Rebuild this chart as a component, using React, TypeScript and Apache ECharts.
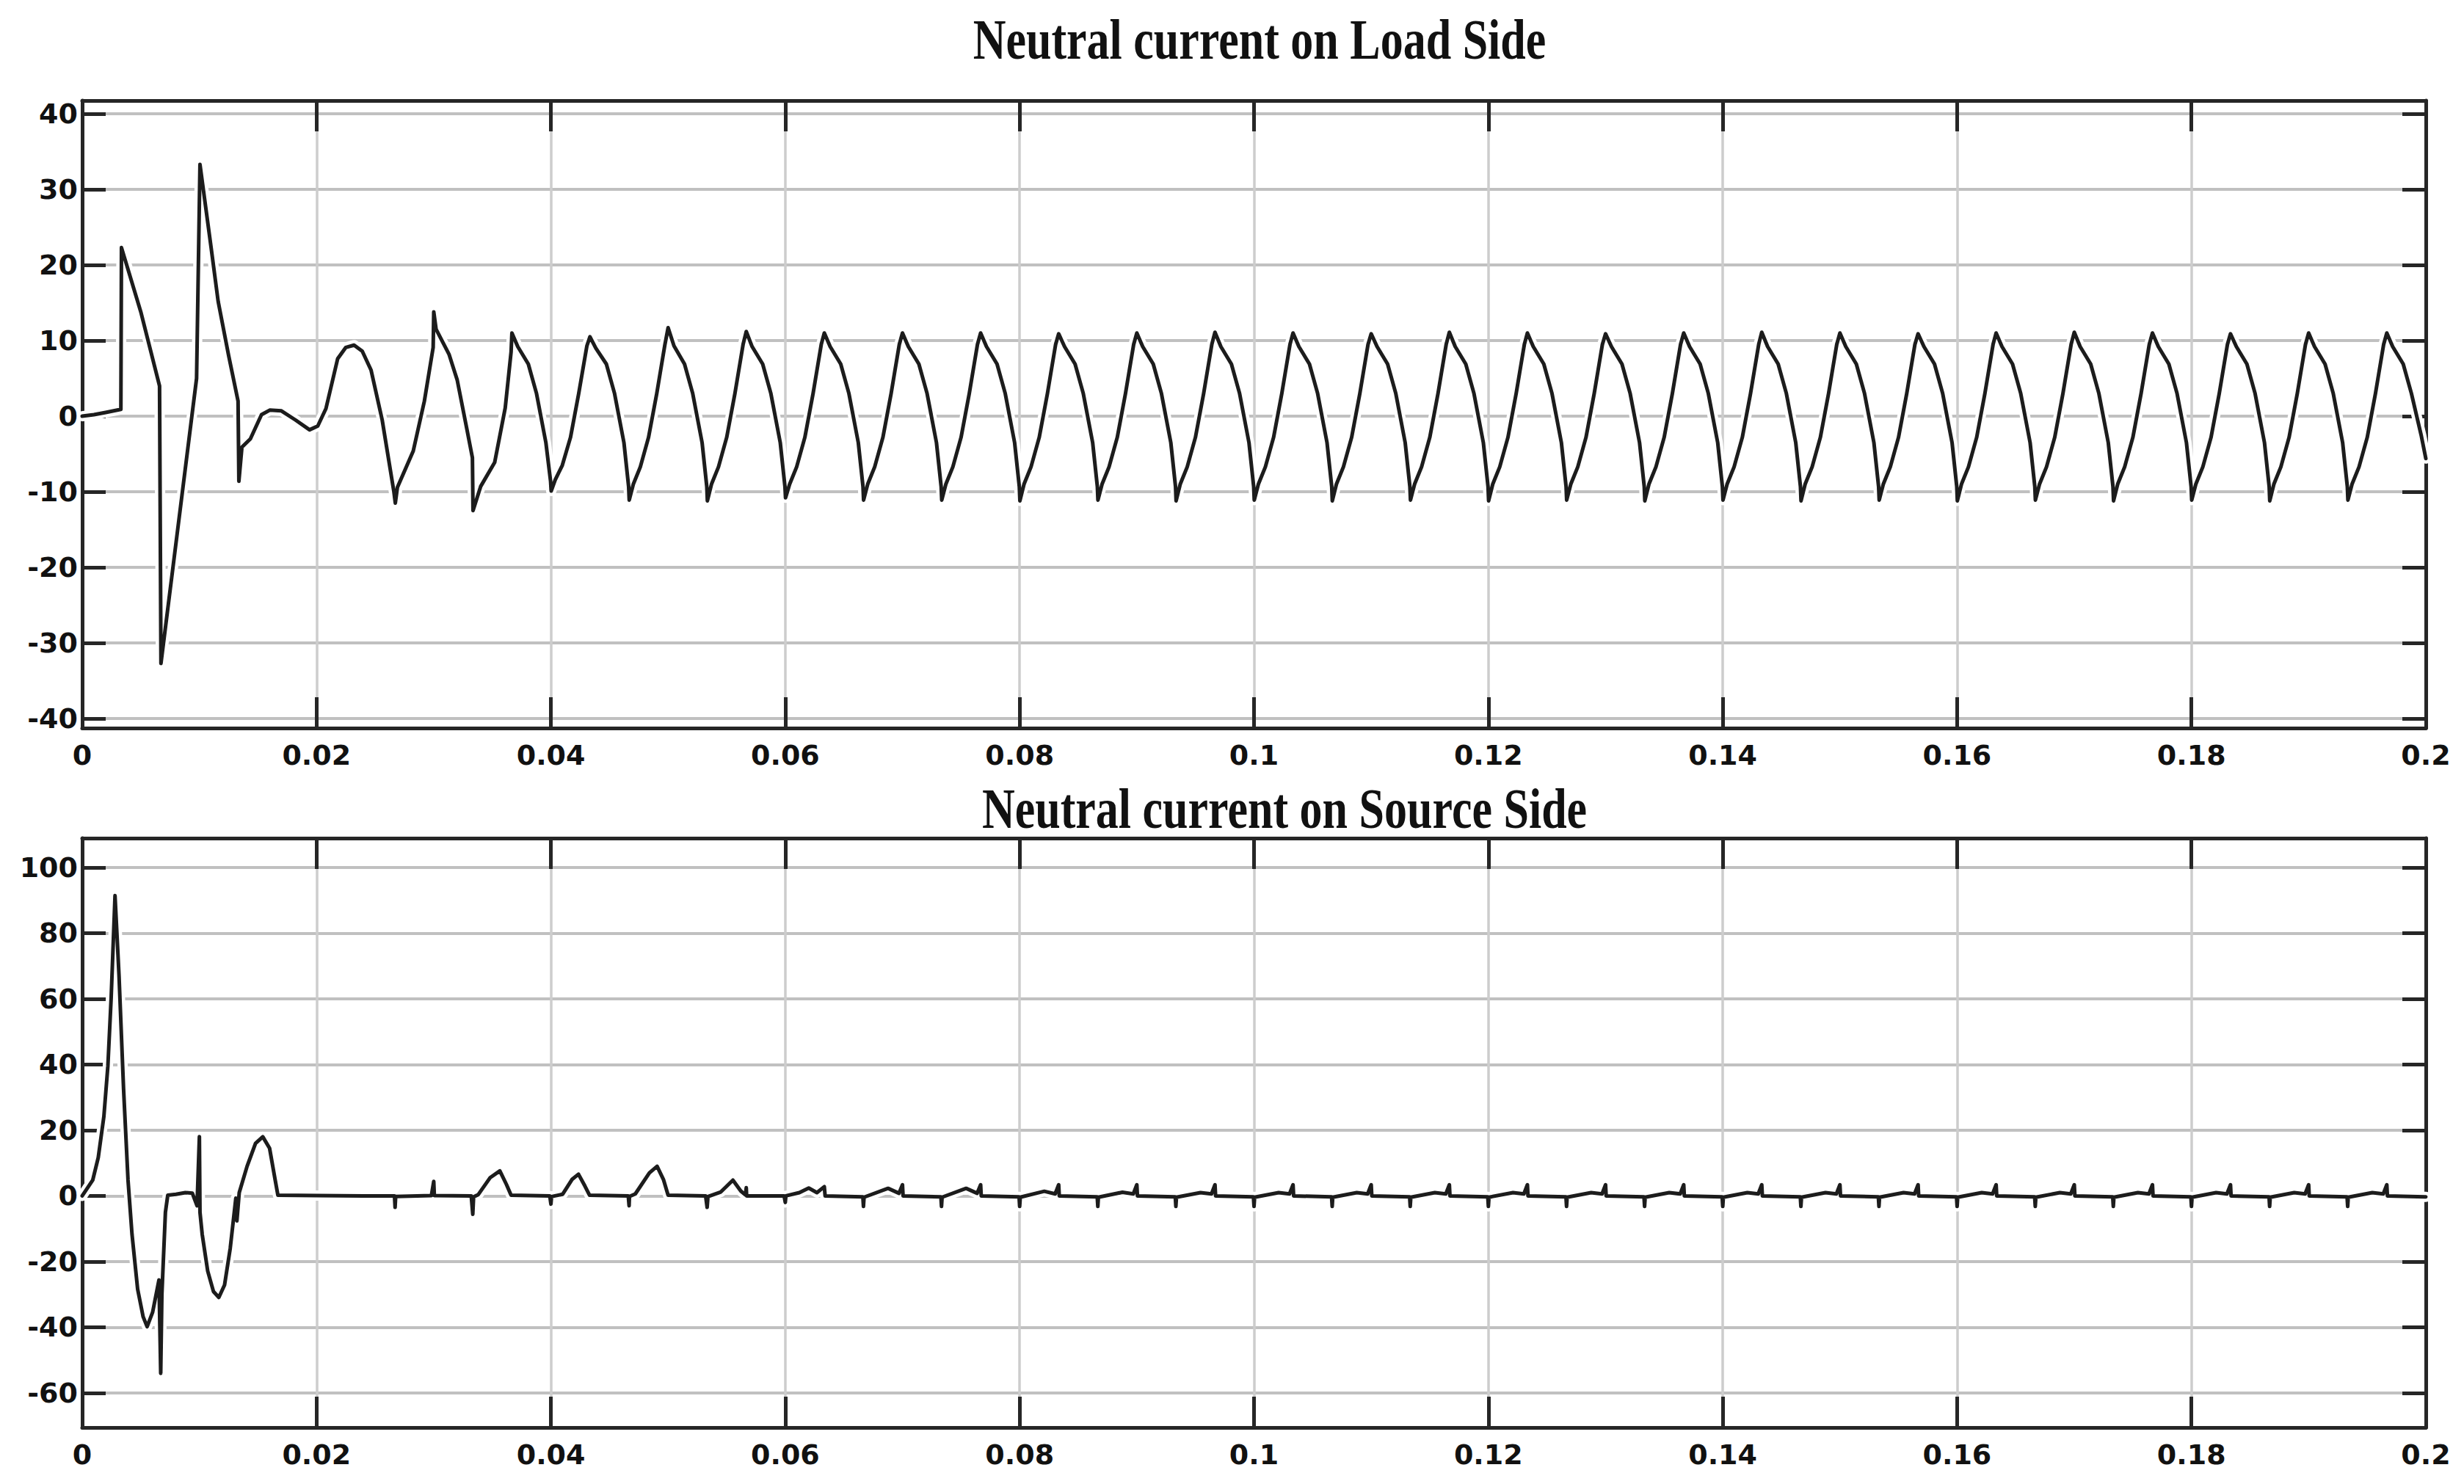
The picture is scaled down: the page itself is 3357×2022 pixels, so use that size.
import React, { useEffect, useRef } from 'react';
import * as echarts from 'echarts';

// ---------- data ----------
const titles = ['Neutral current on Load Side', 'Neutral current on Source Side'];

const xRange = [0, 0.2];
const xStep = 0.02;
const loadRange = [-41.25, 41.75];
const loadStep = 10;
const sourceRange = [-70.5, 108.9];
const sourceStep = 20;

// Neutral current, load side: [time (s), current (A)]
const loadSide: number[][] = [
  [0, 0], [0.001, 0.2], [0.002, 0.5], [0.0033, 0.9], [0.00335, 22.3], [0.005, 13.8], [0.0066, 4.0],
  [0.00672, -32.7], [0.00976, 5.0], [0.01005, 33.3], [0.011, 22.3], [0.0116, 15.2], [0.0125, 8.0],
  [0.0133, 2.0], [0.01337, -8.6], [0.01363, -4.1], [0.01435, -3.0], [0.0153, 0.2], [0.016, 0.8],
  [0.017, 0.7], [0.0182, -0.5], [0.0194, -1.8], [0.0201, -1.3], [0.0208, 1.0], [0.0218, 7.6],
  [0.0225, 9.1], [0.0232, 9.4], [0.0239, 8.6], [0.02465, 6.1], [0.0256, -0.5], [0.0266, -10.0],
  [0.02672, -11.5], [0.0269, -9.4], [0.02825, -4.6], [0.0292, 2.0], [0.02995, 9.1],
  [0.03, 13.8], [0.0302, 11.5], [0.0313, 8.2], [0.032, 4.8], [0.0328, -1.5], [0.0333, -5.5],
  [0.03335, -12.5], [0.034, -9.3], [0.0352, -6.1], [0.0361, 1.1], [0.0366, 8.5],
  [0.03667, 11.0], [0.03717, 9.2], [0.03807, 6.9], [0.03877, 3.0], [0.03957, -3.5], [0.03997, -8.6], [0.04002, -9.9], [0.04037, -8.4], [0.04097, -6.5], [0.04167, -2.8], [0.04237, 3.0], [0.04307, 9.3],
  [0.04333, 10.5], [0.04383, 9.0], [0.04473, 6.9], [0.04543, 3.0], [0.04623, -3.5], [0.04663, -9.3], [0.04668, -11.1], [0.04703, -9.0], [0.04763, -6.7], [0.04833, -2.8], [0.04903, 3.0], [0.04973, 9.5],
  [0.05, 11.7], [0.0505, 9.3], [0.0514, 6.9], [0.0521, 3.0], [0.0529, -3.5], [0.0533, -9.3], [0.05335, -11.2], [0.0537, -9.0], [0.0543, -6.7], [0.055, -2.8], [0.0557, 3.0], [0.0564, 9.5],
  [0.05667, 11.2], [0.05717, 9.2], [0.05807, 6.9], [0.05877, 3.0], [0.05957, -3.5], [0.05997, -9.3], [0.06002, -10.8], [0.06037, -9.0], [0.06097, -6.7], [0.06167, -2.8], [0.06237, 3.0], [0.06307, 9.5],
  [0.06333, 11.0], [0.06383, 9.2], [0.06473, 6.9], [0.06543, 3.0], [0.06623, -3.5], [0.06663, -9.3], [0.06668, -11.1], [0.06703, -9.0], [0.06763, -6.7], [0.06833, -2.8], [0.06903, 3.0], [0.06973, 9.5],
  [0.07, 11.0], [0.0705, 9.2], [0.0714, 6.9], [0.0721, 3.0], [0.0729, -3.5], [0.0733, -9.3], [0.07335, -11.1], [0.0737, -9.0], [0.0743, -6.7], [0.075, -2.8], [0.0757, 3.0], [0.0764, 9.5],
  [0.07667, 11.0], [0.07717, 9.2], [0.07807, 6.9], [0.07877, 3.0], [0.07957, -3.5], [0.07997, -9.3], [0.08002, -11.2], [0.08037, -9.0], [0.08097, -6.7], [0.08167, -2.8], [0.08237, 3.0], [0.08307, 9.5],
  [0.08333, 10.9], [0.08383, 9.2], [0.08473, 6.9], [0.08543, 3.0], [0.08623, -3.5], [0.08663, -9.3], [0.08668, -11.1], [0.08703, -9.0], [0.08763, -6.7], [0.08833, -2.8], [0.08903, 3.0], [0.08973, 9.5],
  [0.09, 11.0], [0.0905, 9.2], [0.0914, 6.9], [0.0921, 3.0], [0.0929, -3.5], [0.0933, -9.3], [0.09335, -11.2], [0.0937, -9.0], [0.0943, -6.7], [0.095, -2.8], [0.0957, 3.0], [0.0964, 9.5],
  [0.09667, 11.1], [0.09717, 9.2], [0.09807, 6.9], [0.09877, 3.0], [0.09957, -3.5], [0.09997, -9.3], [0.10002, -11.1], [0.10037, -9.0], [0.10097, -6.7], [0.10167, -2.8], [0.10237, 3.0], [0.10307, 9.5],
  [0.10333, 11.0], [0.10383, 9.2], [0.10473, 6.9], [0.10543, 3.0], [0.10623, -3.5], [0.10663, -9.3], [0.10668, -11.2], [0.10703, -9.0], [0.10763, -6.7], [0.10833, -2.8], [0.10903, 3.0], [0.10973, 9.5],
  [0.11, 10.9], [0.1105, 9.2], [0.1114, 6.9], [0.1121, 3.0], [0.1129, -3.5], [0.1133, -9.3], [0.11335, -11.1], [0.1137, -9.0], [0.1143, -6.7], [0.115, -2.8], [0.1157, 3.0], [0.1164, 9.5],
  [0.11667, 11.1], [0.11717, 9.2], [0.11807, 6.9], [0.11877, 3.0], [0.11957, -3.5], [0.11997, -9.3], [0.12002, -11.2], [0.12037, -9.0], [0.12097, -6.7], [0.12167, -2.8], [0.12237, 3.0], [0.12307, 9.5],
  [0.12333, 11.0], [0.12383, 9.2], [0.12473, 6.9], [0.12543, 3.0], [0.12623, -3.5], [0.12663, -9.3], [0.12668, -11.1], [0.12703, -9.0], [0.12763, -6.7], [0.12833, -2.8], [0.12903, 3.0], [0.12973, 9.5],
  [0.13, 10.9], [0.1305, 9.2], [0.1314, 6.9], [0.1321, 3.0], [0.1329, -3.5], [0.1333, -9.3], [0.13335, -11.2], [0.1337, -9.0], [0.1343, -6.7], [0.135, -2.8], [0.1357, 3.0], [0.1364, 9.5],
  [0.13667, 11.0], [0.13717, 9.2], [0.13807, 6.9], [0.13877, 3.0], [0.13957, -3.5], [0.13997, -9.3], [0.14002, -11.1], [0.14037, -9.0], [0.14097, -6.7], [0.14167, -2.8], [0.14237, 3.0], [0.14307, 9.5],
  [0.14333, 11.1], [0.14383, 9.2], [0.14473, 6.9], [0.14543, 3.0], [0.14623, -3.5], [0.14663, -9.3], [0.14668, -11.2], [0.14703, -9.0], [0.14763, -6.7], [0.14833, -2.8], [0.14903, 3.0], [0.14973, 9.5],
  [0.15, 11.0], [0.1505, 9.2], [0.1514, 6.9], [0.1521, 3.0], [0.1529, -3.5], [0.1533, -9.3], [0.15335, -11.1], [0.1537, -9.0], [0.1543, -6.7], [0.155, -2.8], [0.1557, 3.0], [0.1564, 9.5],
  [0.15667, 10.9], [0.15717, 9.2], [0.15807, 6.9], [0.15877, 3.0], [0.15957, -3.5], [0.15997, -9.3], [0.16002, -11.2], [0.16037, -9.0], [0.16097, -6.7], [0.16167, -2.8], [0.16237, 3.0], [0.16307, 9.5],
  [0.16333, 11.0], [0.16383, 9.2], [0.16473, 6.9], [0.16543, 3.0], [0.16623, -3.5], [0.16663, -9.3], [0.16668, -11.1], [0.16703, -9.0], [0.16763, -6.7], [0.16833, -2.8], [0.16903, 3.0], [0.16973, 9.5],
  [0.17, 11.1], [0.1705, 9.2], [0.1714, 6.9], [0.1721, 3.0], [0.1729, -3.5], [0.1733, -9.3], [0.17335, -11.2], [0.1737, -9.0], [0.1743, -6.7], [0.175, -2.8], [0.1757, 3.0], [0.1764, 9.5],
  [0.17667, 11.0], [0.17717, 9.2], [0.17807, 6.9], [0.17877, 3.0], [0.17957, -3.5], [0.17997, -9.3], [0.18002, -11.1], [0.18037, -9.0], [0.18097, -6.7], [0.18167, -2.8], [0.18237, 3.0], [0.18307, 9.5],
  [0.18333, 10.9], [0.18383, 9.2], [0.18473, 6.9], [0.18543, 3.0], [0.18623, -3.5], [0.18663, -9.3], [0.18668, -11.2], [0.18703, -9.0], [0.18763, -6.7], [0.18833, -2.8], [0.18903, 3.0], [0.18973, 9.5],
  [0.19, 11.0], [0.1905, 9.2], [0.1914, 6.9], [0.1921, 3.0], [0.1929, -3.5], [0.1933, -9.3], [0.19335, -11.1], [0.1937, -9.0], [0.1943, -6.7], [0.195, -2.8], [0.1957, 3.0], [0.1964, 9.5],
  [0.19667, 11.0], [0.19717, 9.2], [0.19807, 6.9], [0.19877, 3.0], [0.1996, -2.5], [0.2, -5.6],
];

// Neutral current, source side: [time (s), current (A)]
const sourceSide: number[][] = [
  [0, 0], [0.0009, 4.8], [0.00137, 11.7], [0.00185, 24.2], [0.00219, 39.5], [0.00247, 60.2], [0.0028, 91.4],
  [0.00314, 67.2], [0.00353, 32.5], [0.00391, 4.8], [0.00425, -11.7], [0.00473, -28.4], [0.0052, -36.8],
  [0.00554, -39.8], [0.00601, -35.4], [0.00655, -25.6], [0.0067, -54.0], [0.0068, -30.0], [0.0071, -5.0],
  [0.0073, 0.2], [0.008, 0.5], [0.0088, 1.0], [0.0094, 0.8], [0.0098, -3.0], [0.01, 18.0], [0.01005, -5.0],
  [0.01024, -11.7], [0.01071, -22.9], [0.0112, -29.1], [0.01166, -30.9], [0.01215, -27.1], [0.01263, -16.0],
  [0.01311, -0.7], [0.0132, -7.6], [0.0134, 1.0], [0.01407, 9.0], [0.01479, 16.0], [0.01541, 18.0],
  [0.01599, 14.5], [0.01647, 4.8], [0.0167, 0.2], [0.02, 0.1], [0.024, 0.0], [0.02665, 0.0], [0.0267, -3.5],
  [0.02675, -0.2], [0.0298, 0.1], [0.03, 4.4], [0.03005, 0.1], [0.0332, 0.0], [0.03333, -5.6], [0.0334, -0.3],
  [0.0338, 0.4], [0.0348, 5.5], [0.03564, 7.6], [0.0362, 3.5], [0.0366, 0.2], [0.0399, 0.0], [0.04, -2.5],
  [0.04005, -0.2], [0.041, 0.5], [0.0418, 5.0], [0.04235, 6.6], [0.0429, 3.0], [0.0433, 0.2], [0.0466, 0.0],
  [0.04667, -3.0], [0.0467, -0.2], [0.0472, 0.6], [0.0484, 7.0], [0.04906, 9.0], [0.0496, 5.0], [0.05, 0.2],
  [0.0532, 0.0], [0.05333, -3.5], [0.0534, -0.2], [0.0545, 1.2], [0.05553, 4.8], [0.0562, 1.5], [0.0566, 0.3],
  [0.05667, 2.5], [0.0567, 0.0], [0.0599, 0.0], [0.06, -2.0], [0.06005, 0.0], [0.0612, 1.0], [0.062, 2.4],
  [0.0627, 1.0], [0.06333, 2.8], [0.0634, 0.0],
  [0.06662, -0.3], [0.06667, -3.2], [0.06672, -0.4], [0.06877, 2.3], [0.0697, 0.8], [0.07, 3.4], [0.07005, 0.0],
  [0.07328, -0.3], [0.07333, -3.2], [0.07338, -0.4], [0.07543, 2.3], [0.07637, 0.8], [0.07667, 3.4], [0.07672, 0.0],
  [0.07995, -0.3], [0.08, -3.2], [0.08005, -0.4], [0.0821, 1.4], [0.08303, 0.6], [0.08333, 3.4], [0.08338, 0.0],
  [0.08662, -0.3], [0.08667, -3.2], [0.08672, -0.4], [0.08877, 1.1], [0.0897, 0.6], [0.09, 3.4], [0.09005, 0.0],
  [0.09328, -0.3], [0.09333, -3.2], [0.09338, -0.4], [0.09543, 1.0], [0.09637, 0.6], [0.09667, 3.4], [0.09672, 0.0],
  [0.09995, -0.3], [0.1, -3.2], [0.10005, -0.4], [0.1021, 1.0], [0.10303, 0.6], [0.10333, 3.4], [0.10338, 0.0],
  [0.10662, -0.3], [0.10667, -3.2], [0.10672, -0.4], [0.10877, 1.0], [0.1097, 0.6], [0.11, 3.4], [0.11005, 0.0],
  [0.11328, -0.3], [0.11333, -3.2], [0.11338, -0.4], [0.11543, 1.0], [0.11637, 0.6], [0.11667, 3.4], [0.11672, 0.0],
  [0.11995, -0.3], [0.12, -3.2], [0.12005, -0.4], [0.1221, 1.0], [0.12303, 0.6], [0.12333, 3.4], [0.12338, 0.0],
  [0.12662, -0.3], [0.12667, -3.2], [0.12672, -0.4], [0.12877, 1.0], [0.1297, 0.6], [0.13, 3.4], [0.13005, 0.0],
  [0.13328, -0.3], [0.13333, -3.2], [0.13338, -0.4], [0.13543, 1.0], [0.13637, 0.6], [0.13667, 3.4], [0.13672, 0.0],
  [0.13995, -0.3], [0.14, -3.2], [0.14005, -0.4], [0.1421, 1.0], [0.14303, 0.6], [0.14333, 3.4], [0.14338, 0.0],
  [0.14662, -0.3], [0.14667, -3.2], [0.14672, -0.4], [0.14877, 1.0], [0.1497, 0.6], [0.15, 3.4], [0.15005, 0.0],
  [0.15328, -0.3], [0.15333, -3.2], [0.15338, -0.4], [0.15543, 1.0], [0.15637, 0.6], [0.15667, 3.4], [0.15672, 0.0],
  [0.15995, -0.3], [0.16, -3.2], [0.16005, -0.4], [0.1621, 1.0], [0.16303, 0.6], [0.16333, 3.4], [0.16338, 0.0],
  [0.16662, -0.3], [0.16667, -3.2], [0.16672, -0.4], [0.16877, 1.0], [0.1697, 0.6], [0.17, 3.4], [0.17005, 0.0],
  [0.17328, -0.3], [0.17333, -3.2], [0.17338, -0.4], [0.17543, 1.0], [0.17637, 0.6], [0.17667, 3.4], [0.17672, 0.0],
  [0.17995, -0.3], [0.18, -3.2], [0.18005, -0.4], [0.1821, 1.0], [0.18303, 0.6], [0.18333, 3.4], [0.18338, 0.0],
  [0.18662, -0.3], [0.18667, -3.2], [0.18672, -0.4], [0.18877, 1.0], [0.1897, 0.6], [0.19, 3.4], [0.19005, 0.0],
  [0.19328, -0.3], [0.19333, -3.2], [0.19338, -0.4], [0.19543, 1.0], [0.19637, 0.6], [0.19667, 3.4], [0.19672, 0.0],
  [0.2, -0.3],
];

// ---------- styling ----------
const AXIS_COLOR = '#262626';
const LABEL_FONT = 'DejaVu Sans';
const LABEL_SIZE = 38;
const LABEL_WEIGHT = 'bold';
const LINE_COLOR = '#1c1c1c';

const fmtX = (v: number) => String(+v.toFixed(2));

function xAxesFor(gridIndex: number) {
  const common = {
    type: 'value',
    gridIndex,
    min: xRange[0],
    max: xRange[1],
    interval: xStep,
    axisLine: { show: true, onZero: false, lineStyle: { color: AXIS_COLOR, width: 5 } },
    axisTick: { show: true, inside: true, length: 42, lineStyle: { color: AXIS_COLOR, width: 5 } },
  };
  return [
    {
      ...common,
      position: 'bottom',
      axisLabel: {
        show: true,
        margin: 18,
        fontFamily: LABEL_FONT,
        fontSize: LABEL_SIZE,
        fontWeight: LABEL_WEIGHT,
        color: '#111',
        formatter: fmtX,
      },
      splitLine: {
        show: true,
        showMinLine: false,
        showMaxLine: false,
        lineStyle: { color: '#cdcdcd', width: 3.5 },
      },
    },
    {
      ...common,
      position: 'top',
      axisLabel: { show: false },
      splitLine: { show: false },
    },
  ];
}

function yAxesFor(gridIndex: number, range: number[], step: number) {
  const common = {
    type: 'value',
    gridIndex,
    min: range[0],
    max: range[1],
    minInterval: step,
    maxInterval: step,
    axisLine: { show: true, onZero: false, lineStyle: { color: AXIS_COLOR, width: 5 } },
    axisTick: { show: true, inside: true, length: 32, lineStyle: { color: AXIS_COLOR, width: 5 } },
  };
  return [
    {
      ...common,
      position: 'left',
      axisLabel: {
        show: true,
        margin: 6,
        fontFamily: LABEL_FONT,
        fontSize: LABEL_SIZE,
        fontWeight: LABEL_WEIGHT,
        color: '#111',
        showMinLabel: false,
        showMaxLabel: false,
      },
      splitLine: {
        show: true,
        showMinLine: false,
        showMaxLine: false,
        lineStyle: { color: '#c0c0c0', width: 4 },
      },
    },
    {
      ...common,
      position: 'right',
      axisLabel: { show: false },
      splitLine: { show: false },
    },
  ];
}

function wave(data: number[][], axisIndex: number) {
  const base = {
    type: 'line',
    xAxisIndex: axisIndex,
    yAxisIndex: axisIndex,
    data,
    symbol: 'none',
    silent: true,
  };
  return [
    { ...base, z: 2, lineStyle: { color: '#ffffff', width: 14, join: 'round', cap: 'round' } },
    { ...base, z: 3, lineStyle: { color: LINE_COLOR, width: 5, join: 'round', cap: 'round' } },
  ];
}

function titleText(text: string, x: number, y: number) {
  return {
    type: 'text',
    x,
    y,
    scaleY: 1.27,
    silent: true,
    style: {
      text,
      fontFamily: 'Liberation Serif',
      fontWeight: 'bold',
      fontSize: 62,
      fill: '#111',
      textAlign: 'center',
      textVerticalAlign: 'middle',
      align: 'center',
      verticalAlign: 'middle',
    },
  };
}

const option = {
  animation: false,
  backgroundColor: '#ffffff',
  grid: [
    { left: 112, top: 137, width: 3193, height: 855 },
    { left: 112, top: 1142, width: 3193, height: 803 },
  ],
  xAxis: [...xAxesFor(0), ...xAxesFor(1)],
  yAxis: [...yAxesFor(0, loadRange, loadStep), ...yAxesFor(1, sourceRange, sourceStep)],
  series: [...wave(loadSide, 0), ...wave(sourceSide, 2)],
  graphic: [titleText(titles[0], 1716, 53), titleText(titles[1], 1750, 1101)],
};

export default function App() {
  const ref = useRef<HTMLDivElement>(null);
  useEffect(() => {
    if (!ref.current) return;
    const chart = echarts.init(ref.current, null, { renderer: 'svg' });
    chart.setOption(option as any);
    return () => chart.dispose();
  }, []);
  return (
    <div
      ref={ref}
      style={{ position: 'absolute', left: 0, top: 0, width: 3357, height: 2022, background: '#fff' }}
    />
  );
}
